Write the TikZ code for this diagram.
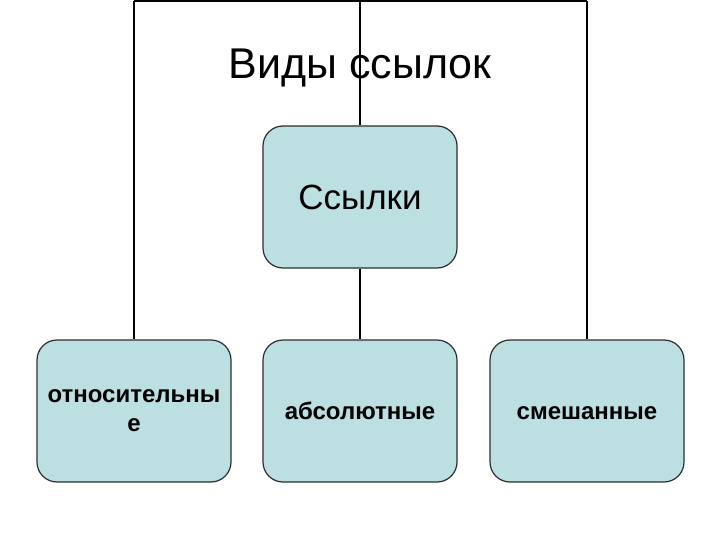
\documentclass[tikz,border=0pt]{standalone}
\usepackage{fontspec}
\setmainfont{Liberation Sans}
\definecolor{boxfill}{HTML}{BCDFE2}
\definecolor{boxline}{HTML}{2E2E2E}
\tikzset{
  itembox/.style={draw=boxline, line width=1.2pt, fill=boxfill, rounded corners=20pt,
    minimum width=194pt, minimum height=142pt, align=center, inner sep=0pt},
  smalltext/.style={font=\fontsize{24}{29}\selectfont\bfseries},
  oneline/.style={text height=17pt, text depth=0pt},
  conn/.style={draw=black, line width=2pt}
}
\begin{document}
\begin{tikzpicture}[x=1pt,y=-1pt]
\useasboundingbox (0,0) rectangle (720,540);
\coordinate (tl) at (134,1);
\coordinate (tc) at (360,1);
\coordinate (tr) at (587,1);
\node[itembox, font=\fontsize{35}{40}\selectfont] (root) at (360,197) {Ссылки};
\node[itembox, smalltext] (rel) at (134,411) {относительны\\е};
\node[itembox, smalltext, oneline] (abs) at (360,411) {абсолютные};
\node[itembox, smalltext, oneline] (mix) at (587,411) {смешанные};
\node[font=\fontsize{43}{48}\selectfont] (title) at (360,68) {Виды ссылок};
\draw[conn] (tl) -- (tr);
\draw[conn] (tl) -- (rel.north);
\draw[conn] (tr) -- (mix.north);
\draw[conn] (tc) -- (root.north);
\draw[conn] (root.south) -- (abs.north);
\end{tikzpicture}
\end{document}
